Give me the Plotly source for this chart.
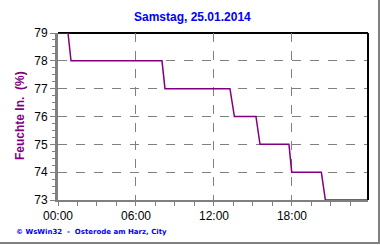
import plotly.graph_objects as go

# hours since midnight, humidity (%)
hours = [0.0, 0.77, 1.0, 8.0, 8.23, 13.23, 13.57, 15.23, 15.54, 17.77, 17.98, 20.26, 20.57, 23.85]
humidity = [79, 79, 78, 78, 77, 77, 76, 76, 75, 75, 74, 74, 73, 73]
xtick_vals = [0, 6, 12, 18]
xtick_text = ["00:00", "06:00", "12:00", "18:00"]
title_text = "Samstag, 25.01.2014"
ytitle_text = "Feuchte In.  (%)"
footer_text = "© WsWin32  -  Osterode am Harz, City"

L, R, T, B = 58, 368, 33, 200
W, H = 380, 245

def px(x):
    return (x - L) / (R - L)

def py(y):
    return (B - y) / (B - T)

fig = go.Figure()
fig.add_trace(go.Scatter(x=hours, y=humidity, mode="lines",
                         line=dict(color="#800080", width=1.5), hoverinfo="skip"))

fig.update_layout(
    width=W, height=H,
    margin=dict(l=L, r=W - R, t=T, b=H - B),
    paper_bgcolor="white", plot_bgcolor="white",
    showlegend=False,
    font=dict(family="Arial, Liberation Sans", size=12, color="black"),
    xaxis=dict(range=[0, 23.85], tickvals=xtick_vals, ticktext=xtick_text,
               showgrid=True, gridcolor="#808080", griddash="dash", gridwidth=1,
               showline=True, linecolor="#808080", linewidth=2,
               ticks="outside", ticklen=4, tickcolor="#808080", tickwidth=1,
               minor=dict(dtick=1.5, tick0=0, ticks="outside", ticklen=4,
                          tickcolor="#808080", showgrid=False),
               zeroline=False, fixedrange=True, tickfont=dict(size=12)),
    yaxis=dict(range=[73, 79], dtick=1, tick0=73,
               showgrid=True, gridcolor="#808080", griddash="dash", gridwidth=1,
               showline=True, linecolor="#808080", linewidth=3,
               ticks="outside", ticklen=5, tickcolor="#808080", tickwidth=1,
               minor=dict(dtick=0.25, ticks="outside", ticklen=3,
                          tickcolor="#808080", showgrid=False),
               zeroline=False, fixedrange=True, tickfont=dict(size=12)),
    shapes=[
        dict(type="line", xref="paper", yref="paper", x0=0, x1=1, y0=1, y1=1,
             line=dict(color="black", width=2), layer="below"),
        dict(type="line", xref="paper", yref="paper", x0=1, x1=1, y0=0, y1=1,
             line=dict(color="black", width=2)),
        dict(type="line", xref="paper", yref="paper", x0=px(379), x1=px(379),
             y0=py(0), y1=py(244), line=dict(color="#808080", width=2)),
        dict(type="line", xref="paper", yref="paper", x0=px(0), x1=px(380),
             y0=py(243), y1=py(243), line=dict(color="#808080", width=2)),
    ],
    annotations=[
        dict(text="<b>" + title_text + "</b>", xref="paper", yref="paper",
             x=px(192), y=py(17), xanchor="center", yanchor="middle",
             showarrow=False, font=dict(size=12, color="#0000ff")),
        dict(text="<b>" + ytitle_text + "</b>", xref="paper", yref="paper",
             x=px(20), y=py(116), xanchor="center", yanchor="middle", textangle=-90,
             showarrow=False, font=dict(size=12, color="#800080")),
        dict(text="<b>" + footer_text + "</b>", xref="paper", yref="paper",
             x=px(14), y=py(232), xanchor="left", yanchor="middle",
             showarrow=False, font=dict(size=7, color="#0000ff", family="DejaVu Sans")),
    ],
)

fig.write_html("out.html")
